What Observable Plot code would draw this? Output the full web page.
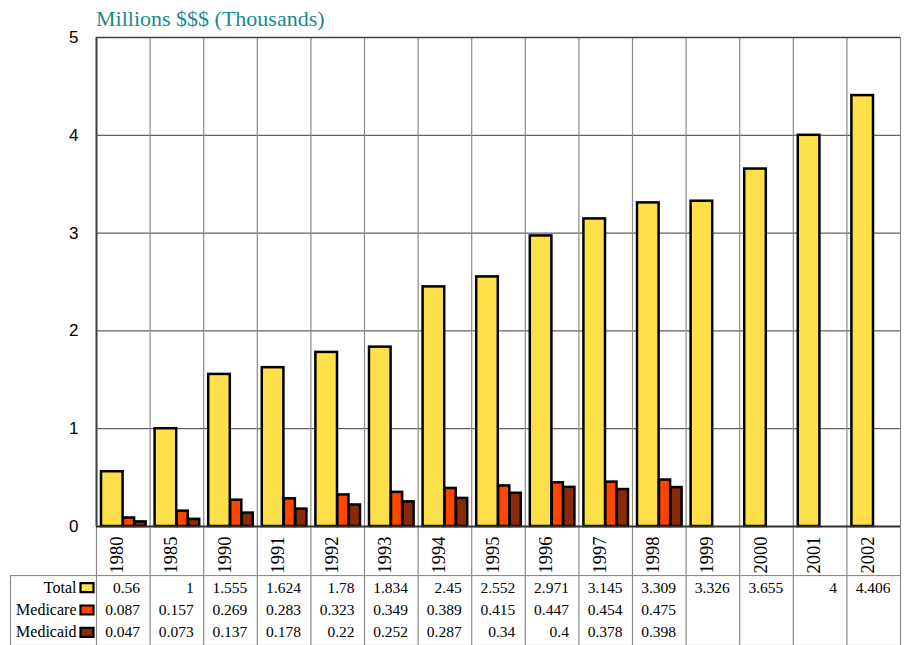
<!DOCTYPE html>
<html>
<head>
<meta charset="utf-8">
<script src="https://cdn.jsdelivr.net/npm/d3@7"></script>
<script src="https://cdn.jsdelivr.net/npm/@observablehq/plot@0.6"></script>
<style>
  html, body { margin: 0; padding: 0; background: #fff; }
  #wrap { position: relative; width: 904px; height: 645px; overflow: hidden; }
  #title { position: absolute; left: 96px; top: 8px; font-family: "Liberation Serif", "Times New Roman", serif; font-size: 22px; line-height: 22px; color: #178C8A; white-space: nowrap; }
  #wrap svg { display: block; }
</style>
</head>
<body>
<div id="wrap">
  <div id="chart"></div>
  <div id="table"></div>
  <div id="title">Millions $$$ (Thousands)</div>
</div>
<script>
const years = ["1980","1985","1990","1991","1992","1993","1994","1995","1996","1997","1998","1999","2000","2001","2002"];
const total    = [0.56, 1, 1.555, 1.624, 1.78, 1.834, 2.45, 2.552, 2.971, 3.145, 3.309, 3.326, 3.655, 4, 4.406];
const medicare = [0.087, 0.157, 0.269, 0.283, 0.323, 0.349, 0.389, 0.415, 0.447, 0.454, 0.475, null, null, null, null];
const medicaid = [0.047, 0.073, 0.137, 0.178, 0.22, 0.252, 0.287, 0.34, 0.4, 0.378, 0.398, null, null, null, null];
const seriesNames = ["Total", "Medicare", "Medicaid"];
const seriesColors = ["#FFE04B", "#FF4500", "#8B2A0A"];
const yTicks = [0, 1, 2, 3, 4, 5];

const W = 904, ML = 96, MR = 4;
const bw = (W - ML - MR) / years.length;

const rows = [];
[total, medicare, medicaid].forEach((arr, s) => {
  arr.forEach((v, i) => { if (v != null) rows.push({year: years[i], series: seriesNames[s], value: v}); });
});
const bars = s => rows.filter(d => d.series === s);

const serif = "'Liberation Serif', 'Times New Roman', serif";

const chart = Plot.plot({
  width: W, height: 575,
  marginTop: 37, marginLeft: ML, marginRight: MR, marginBottom: 49,
  style: {fontFamily: "'Liberation Sans', Arial, sans-serif", fontSize: "17px", color: "#000", background: "#fff"},
  x: {type: "band", domain: years, padding: 0, round: false, axis: null},
  y: {domain: [0, 5], ticks: yTicks, tickSize: 0, tickPadding: 18, tickFormat: d => String(d), label: null},
  marks: [
    Plot.ruleY([1, 2, 3, 4], {stroke: "#3c3c3c", strokeWidth: 1}),
    Plot.ruleX(years, {x: d => d, dx: -bw / 2, stroke: "#8a8a8a", strokeWidth: 1.2, insetBottom: -49}),
    Plot.ruleX([years[years.length - 1]], {x: d => d, dx: bw / 2, stroke: "#8a8a8a", strokeWidth: 1.2, insetBottom: -49}),
    Plot.ruleX([years[0]], {x: d => d, dx: -bw / 2, stroke: "#404040", strokeWidth: 2}),
    Plot.ruleY([5], {stroke: "#404040", strokeWidth: 1.5}),
    Plot.rectY(bars("Total"), {x: "year", y: "value", fill: seriesColors[0], stroke: "#000", strokeWidth: 2.5, insetLeft: 5, insetRight: 27}),
    Plot.rectY(bars("Medicare"), {x: "year", y: "value", fill: seriesColors[1], stroke: "#000", strokeWidth: 2.5, insetLeft: 27, insetRight: 15.5}),
    Plot.rectY(bars("Medicaid"), {x: "year", y: "value", fill: seriesColors[2], stroke: "#000", strokeWidth: 2.5, insetLeft: 38.5, insetRight: 4}),
    Plot.ruleY([0], {stroke: "#303030", strokeWidth: 2}),
    Plot.text(years, {x: d => d, frameAnchor: "bottom", rotate: -90, textAnchor: "end", dy: 10, fontSize: 18.5, fontFamily: serif, fill: "#000"})
  ]
});
document.getElementById("chart").appendChild(chart);

const swatch = {
  draw(context) {
    context.moveTo(-6.5, -4.5);
    context.lineTo(6.5, -4.5);
    context.lineTo(6.5, 4.5);
    context.lineTo(-6.5, 4.5);
    context.closePath();
  }
};

const table = Plot.plot({
  width: W, height: 70,
  marginTop: 0, marginBottom: 0, marginLeft: 10, marginRight: MR,
  style: {fontFamily: serif, fontSize: "15.5px", color: "#000", background: "#fff"},
  x: {type: "band", domain: years, range: [ML, W - MR], padding: 0, round: false, axis: null},
  y: {type: "band", domain: seriesNames, range: [1, 68], padding: 0, round: false, axis: null},
  marks: [
    Plot.frame({stroke: "#8a8a8a", strokeWidth: 1.2}),
    Plot.ruleX(years, {x: d => d, dx: -bw / 2, stroke: "#8a8a8a", strokeWidth: 1.2}),
    Plot.text(seriesNames, {y: d => d, frameAnchor: "left", dx: 66, textAnchor: "end", fontSize: 16}),
    Plot.dot(seriesNames, {y: d => d, frameAnchor: "left", dx: 76.5, symbol: swatch, r: 5, fill: (d, i) => seriesColors[i], stroke: "#000", strokeWidth: 2.2}),
    Plot.text(rows, {x: "year", y: "series", text: d => String(d.value), textAnchor: "end", dx: bw / 2 - 10})
  ]
});
document.getElementById("table").appendChild(table);
</script>
</body>
</html>
